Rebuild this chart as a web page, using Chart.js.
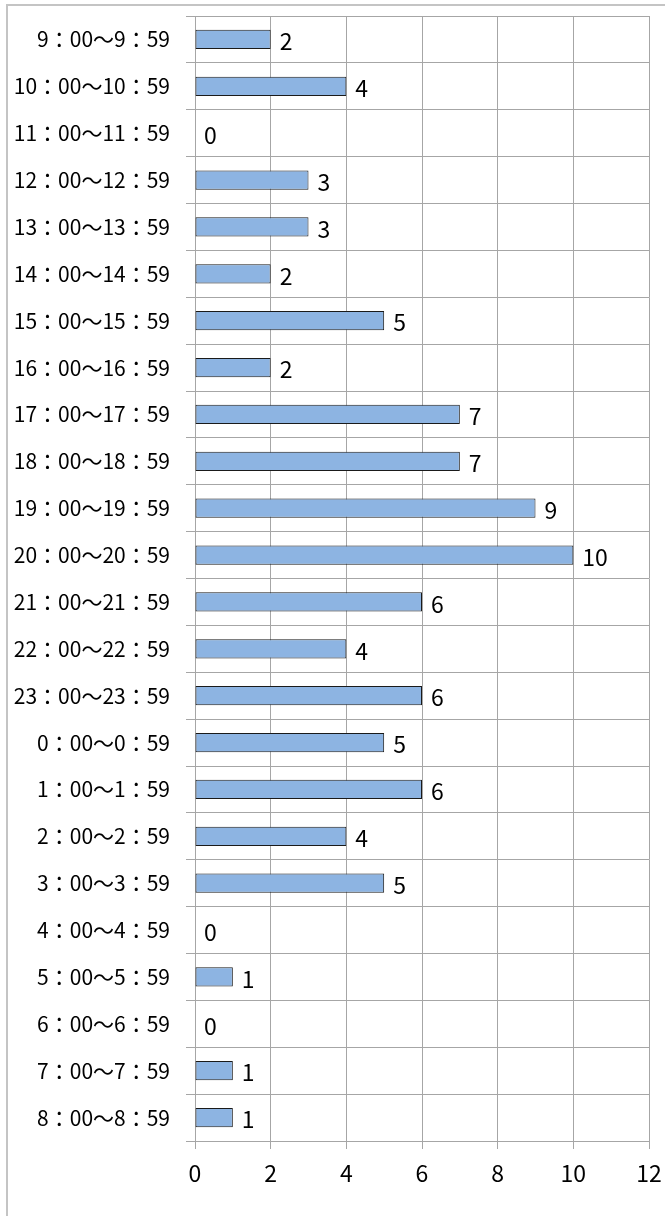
<!DOCTYPE html>
<html>
<head>
<meta charset="utf-8">
<script src="https://cdn.jsdelivr.net/npm/chart.js@4"></script>
<style>
  html, body { margin: 0; padding: 0; background: #fff; }
  #frame { position: absolute; left: 6px; top: 4px; width: 700px; height: 1300px;
           border-top: 2px solid #c4c4c4; border-left: 2px solid #c4c4c4; }
  #wrap { position: absolute; left: 0; top: 0; width: 665px; height: 1216px; }
</style>
</head>
<body>
<div id="frame"></div>
<div id="wrap"><canvas id="timeChart" width="665" height="1216"></canvas></div>
<script>
const hours = ['9', '10', '11', '12', '13', '14', '15', '16', '17', '18', '19', '20',
               '21', '22', '23', '0', '1', '2', '3', '4', '5', '6', '7', '8'];
const categories = hours.map(h => h + '：00〜' + h + '：59');
const counts = [2, 4, 0, 3, 3, 2, 5, 2, 7, 7, 9, 10, 6, 4, 6, 5, 6, 4, 5, 0, 1, 0, 1, 1];
const xTicks = [0, 2, 4, 6, 8, 10, 12];

const fontFamily = '"Noto Sans CJK JP", "Noto Sans", sans-serif';

// value labels to the right of each bar
const valueLabels = {
    id: 'valueLabels',
    afterDatasetsDraw(chart) {
        const ctx = chart.ctx;
        const meta = chart.getDatasetMeta(0);
        ctx.save();
        ctx.font = '23px ' + fontFamily;
        ctx.fillStyle = '#000';
        ctx.textAlign = 'left';
        ctx.textBaseline = 'middle';
        meta.data.forEach((bar, i) => {
            ctx.fillText(String(counts[i]), bar.x + 9, bar.y + 2);
        });
        ctx.restore();
    }
};

// no extra room for overhanging tick labels
function noLabelPadding(axis) {
    axis.paddingLeft = 0;
    axis.paddingRight = 0;
    axis.paddingTop = 0;
    axis.paddingBottom = 0;
}

const ctx = document.getElementById('timeChart').getContext('2d');
new Chart(ctx, {
    type: 'bar',
    data: {
        labels: categories,
        datasets: [{
            data: counts,
            backgroundColor: '#8DB4E2',
            borderColor: '#1a1a1a',
            borderWidth: 1,
            borderSkipped: false,
            barPercentage: 0.41,
            categoryPercentage: 1
        }]
    },
    options: {
        indexAxis: 'y',
        responsive: false,
        animation: false,
        layout: { padding: { top: 16, right: 16, left: 0, bottom: 0 } },
        plugins: { legend: { display: false }, tooltip: { enabled: false } },
        scales: {
            x: {
                min: 0,
                max: 12,
                afterBuildTicks: axis => { axis.ticks = xTicks.map(v => ({ value: v })); },
                afterFit: axis => { axis.height = 75; noLabelPadding(axis); },
                grid: { color: '#a6a6a6', tickLength: 8, lineWidth: 1 },
                border: { color: '#a6a6a6' },
                ticks: { color: '#000', padding: 10, font: { family: fontFamily, size: 23 } }
            },
            y: {
                afterFit: axis => { axis.width = 195; noLabelPadding(axis); },
                grid: { color: '#a6a6a6', tickLength: 9, offset: true, lineWidth: 1 },
                border: { color: '#a6a6a6' },
                ticks: { color: '#000', padding: 16, autoSkip: false, font: { family: fontFamily, size: 21 } }
            }
        }
    },
    plugins: [valueLabels]
});
</script>
</body>
</html>
